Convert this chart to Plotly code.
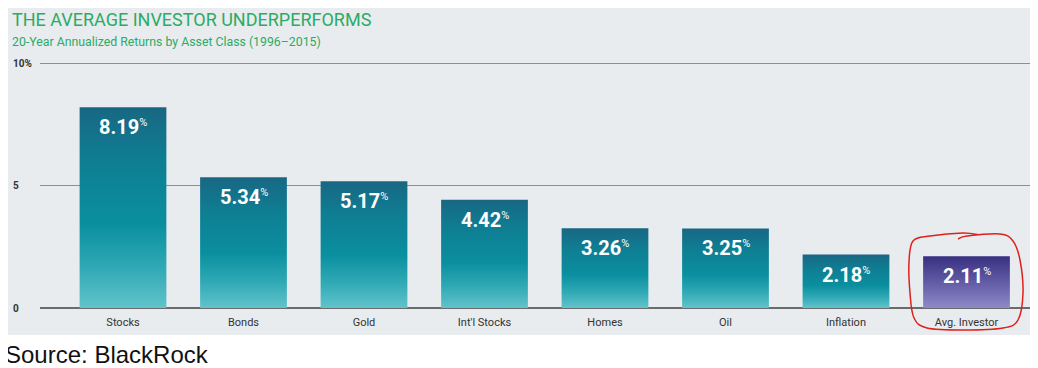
import plotly.graph_objects as go

categories = ["Stocks", "Bonds", "Gold", "Int'l Stocks", "Homes", "Oil", "Inflation", "Avg. Investor"]
returns = [8.19, 5.34, 5.17, 4.42, 3.26, 3.25, 2.18, 2.11]
highlight = [False, False, False, False, False, False, False, True]
ytick_vals = [0, 5, 10]
ytick_text = ["0", "5", "10%"]

title = "THE AVERAGE INVESTOR UNDERPERFORMS"
subtitle = "20-Year Annualized Returns by Asset Class (1996\u20132015)"
source = "Source: BlackRock"

TEAL = [[0, "#62c3cb"], [0.2, "#30a9b5"], [0.42, "#0a8f9f"], [0.75, "#0f7d92"], [1, "#186783"]]
PURPLE = [[0, "#8e8ac7"], [0.45, "#6660aa"], [1, "#383080"]]

# page offset (body margin) and plot area, in screen pixels
OFF = 8
W, H = 1038 - OFF, 368 - OFF
L, R, T, B = 40, 1030, 55, 308
def px(x):
    return (x - L) / (R - L)
def py(y):
    return (B - y) / (B - T)

fig = go.Figure()
bw = 0.36
for i, (c, v, h) in enumerate(zip(categories, returns, highlight)):
    fig.add_trace(go.Scatter(
        x=[i - bw, i + bw, i + bw, i - bw, i - bw],
        y=[0, 0, v, v, 0],
        fill="toself", mode="none",
        fillgradient=dict(type="vertical", colorscale=PURPLE if h else TEAL, start=0, stop=v),
        hoverinfo="skip", showlegend=False,
    ))
    fig.add_annotation(x=i, y=v, xref="x", yref="y", yanchor="top", yshift=-6,
                       text=f"{v:.2f}<sup><span style='font-size:11px;font-weight:400'>%</span></sup>",
                       showarrow=False,
                       font=dict(family="Roboto", size=20, color="white", weight="bold"))

# background panel
fig.add_shape(type="rect", xref="paper", yref="paper", x0=px(5), x1=px(1032), y0=py(335), y1=py(5),
              fillcolor="#e8ecef", line_width=0, layer="below")

# y tick labels
for v, t in zip(ytick_vals, ytick_text):
    fig.add_annotation(x=px(11), y=v, xref="paper", yref="y", xanchor="left", yanchor="middle",
                       text=t, showarrow=False, font=dict(family="Roboto", size=10, color="#333333", weight="bold"))

fig.add_annotation(x=px(10), y=py(20), xref="paper", yref="paper", xanchor="left", yanchor="middle",
                   text=title, showarrow=False, font=dict(family="Roboto", size=18, color="#2aab66"))
fig.add_annotation(x=px(10), y=py(42), xref="paper", yref="paper", xanchor="left", yanchor="middle",
                   text=subtitle, showarrow=False, font=dict(family="Roboto", size=12.3, color="#2aab66"))
fig.add_annotation(x=px(3), y=py(354), xref="paper", yref="paper", xanchor="left", yanchor="middle",
                   text=source, showarrow=False, font=dict(family="Liberation Sans", size=24, color="#111111"))

# hand-drawn red circle
pts = [(980, 235), (963, 233), (930, 236), (913, 241), (909, 262), (910, 293), (914, 318), (927, 328),
       (963, 330), (1003, 328), (1018, 320), (1023, 293), (1020, 260), (1013, 241), (1000, 234),
       (967, 236), (958, 239)]
P = [(px(a), py(b)) for a, b in pts]
d = f"M {P[0][0]},{P[0][1]}"
for k in range(len(P) - 1):
    p0 = P[k - 1] if k > 0 else P[k]
    p1, p2 = P[k], P[k + 1]
    p3 = P[k + 2] if k + 2 < len(P) else P[k + 1]
    c1 = (p1[0] + (p2[0] - p0[0]) / 6, p1[1] + (p2[1] - p0[1]) / 6)
    c2 = (p2[0] - (p3[0] - p1[0]) / 6, p2[1] - (p3[1] - p1[1]) / 6)
    d += f" C {c1[0]},{c1[1]} {c2[0]},{c2[1]} {p2[0]},{p2[1]}"
fig.add_shape(type="path", path=d, xref="paper", yref="paper", line=dict(color="#e0201c", width=1.5))

fig.update_layout(
    width=W, height=H,
    margin=dict(l=L - OFF, r=1038 - R, t=T - OFF, b=368 - B),
    paper_bgcolor="white", plot_bgcolor="rgba(0,0,0,0)",
    font=dict(family="Roboto"),
    xaxis=dict(range=[(L - 123) / 120.5, (R - 123) / 120.5], tickmode="array",
               tickvals=list(range(len(categories))), ticktext=categories,
               tickfont=dict(size=11, color="#333333"), ticklabelstandoff=6,
               showgrid=False, zeroline=False, showline=False, ticks="", fixedrange=True),
    yaxis=dict(range=[0, (B - T) / 24.5], tickvals=ytick_vals, showticklabels=False,
               showgrid=True, gridcolor="#8f8f8f", gridwidth=1,
               zeroline=True, zerolinecolor="#6b6b6b", zerolinewidth=2, fixedrange=True),
)

fig.write_html("out.html")
